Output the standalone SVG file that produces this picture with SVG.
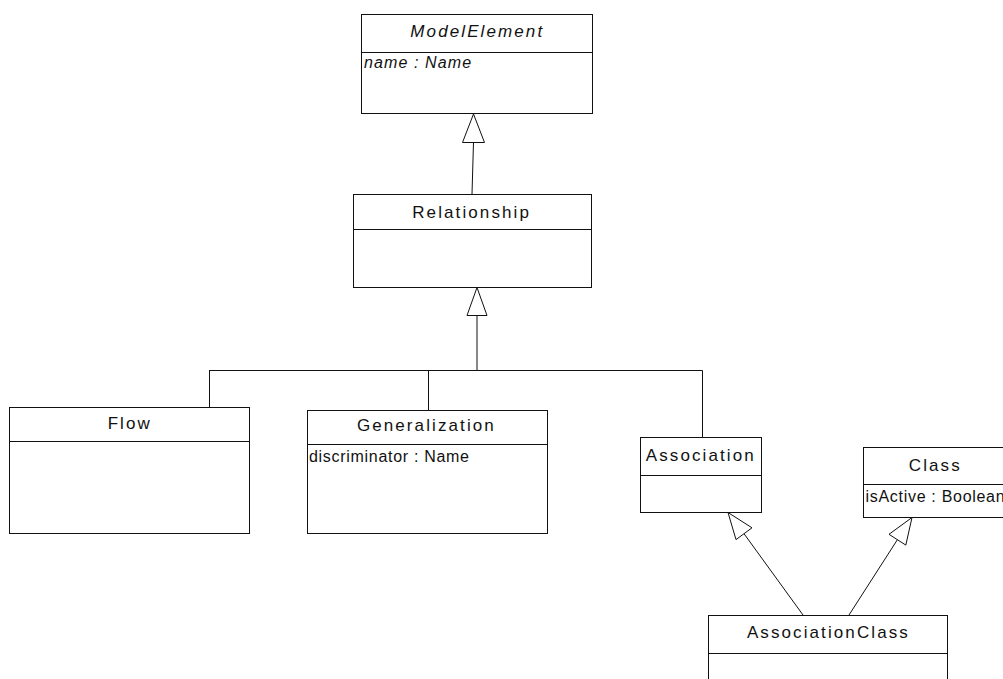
<svg xmlns="http://www.w3.org/2000/svg" width="1003" height="679" viewBox="0 0 1003 679">
  <style>
    .box { fill: #ffffff; stroke: #111111; stroke-width: 1; }
    .sep { stroke: #111111; stroke-width: 1; fill: none; }
    .title { font-family: "Liberation Sans", Arial, sans-serif; font-size: 17px; letter-spacing: 2.1px; text-anchor: middle; fill: #111111; }
    .attr { font-family: "Liberation Sans", Arial, sans-serif; font-size: 16px; letter-spacing: 0.7px; fill: #111111; }
    .abstract { font-style: italic; }
    .attr.abstract { letter-spacing: 1.1px; }
    .edge { stroke: #111111; stroke-width: 1; fill: none; }
    .head { stroke: #111111; stroke-width: 1; fill: #ffffff; stroke-linejoin: miter; }
  </style>

  <rect width="1003" height="679" fill="#ffffff"/>

  <!-- generalization connectors -->
  <g id="connectors">
    <!-- Relationship -> ModelElement -->
    <line class="edge" x1="472" y1="194" x2="473.5" y2="142"/>
    <polygon class="head" points="473.5,114 462.5,142.5 484.5,142.5"/>

    <!-- Flow / Generalization / Association -> Relationship (shared tree) -->
    <line class="edge" x1="477" y1="370.5" x2="477" y2="315"/>
    <polygon class="head" points="477,287.5 467,315.5 487,315.5"/>
    <line class="edge" x1="209" y1="370.5" x2="702.5" y2="370.5"/>
    <line class="edge" x1="209.5" y1="370.5" x2="209.5" y2="407"/>
    <line class="edge" x1="428.5" y1="370.5" x2="428.5" y2="410"/>
    <line class="edge" x1="702.5" y1="370.5" x2="702.5" y2="437"/>

    <!-- AssociationClass -> Association -->
    <line class="edge" x1="803" y1="615" x2="744" y2="533.7"/>
    <polygon class="head" points="728,512.5 752,527.8 736,539.6"/>

    <!-- AssociationClass -> Class -->
    <line class="edge" x1="849" y1="615" x2="897.4" y2="539.7"/>
    <polygon class="head" points="912,517.5 889,534.3 905.8,545.1"/>
  </g>

  <g id="ModelElement">
    <rect class="box" x="361.5" y="14.5" width="231" height="99"/>
    <line class="sep" x1="361.5" y1="52.5" x2="592.5" y2="52.5"/>
    <text class="title abstract" x="477.3" y="37">ModelElement</text>
    <text class="attr abstract" x="364" y="68">name : Name</text>
  </g>

  <g id="Relationship">
    <rect class="box" x="353.5" y="194.5" width="238" height="93"/>
    <line class="sep" x1="353.5" y1="229.5" x2="591.5" y2="229.5"/>
    <text class="title" x="471.6" y="218">Relationship</text>
  </g>

  <g id="Flow">
    <rect class="box" x="9.5" y="407.5" width="240" height="126"/>
    <line class="sep" x1="9.5" y1="441.5" x2="249.5" y2="441.5"/>
    <text class="title" x="129.8" y="429">Flow</text>
  </g>

  <g id="Generalization">
    <rect class="box" x="307.5" y="410.5" width="240" height="123"/>
    <line class="sep" x1="307.5" y1="444.5" x2="547.5" y2="444.5"/>
    <text class="title" x="426.4" y="431">Generalization</text>
    <text class="attr" x="309" y="462">discriminator : Name</text>
  </g>

  <g id="Association">
    <rect class="box" x="640.5" y="437.5" width="121" height="75"/>
    <line class="sep" x1="640.5" y1="475.5" x2="761.5" y2="475.5"/>
    <text class="title" x="700.8" y="461">Association</text>
  </g>

  <g id="Class">
    <rect class="box" x="863.5" y="447.5" width="150" height="70"/>
    <line class="sep" x1="863.5" y1="484.5" x2="1013.5" y2="484.5"/>
    <text class="title" x="935.3" y="471">Class</text>
    <text class="attr" x="865.5" y="502">isActive : Boolean</text>
  </g>

  <g id="AssociationClass">
    <rect class="box" x="708.5" y="615.5" width="239" height="80"/>
    <line class="sep" x1="708.5" y1="653.5" x2="947.5" y2="653.5"/>
    <text class="title" x="828.4" y="638">AssociationClass</text>
  </g>
</svg>
